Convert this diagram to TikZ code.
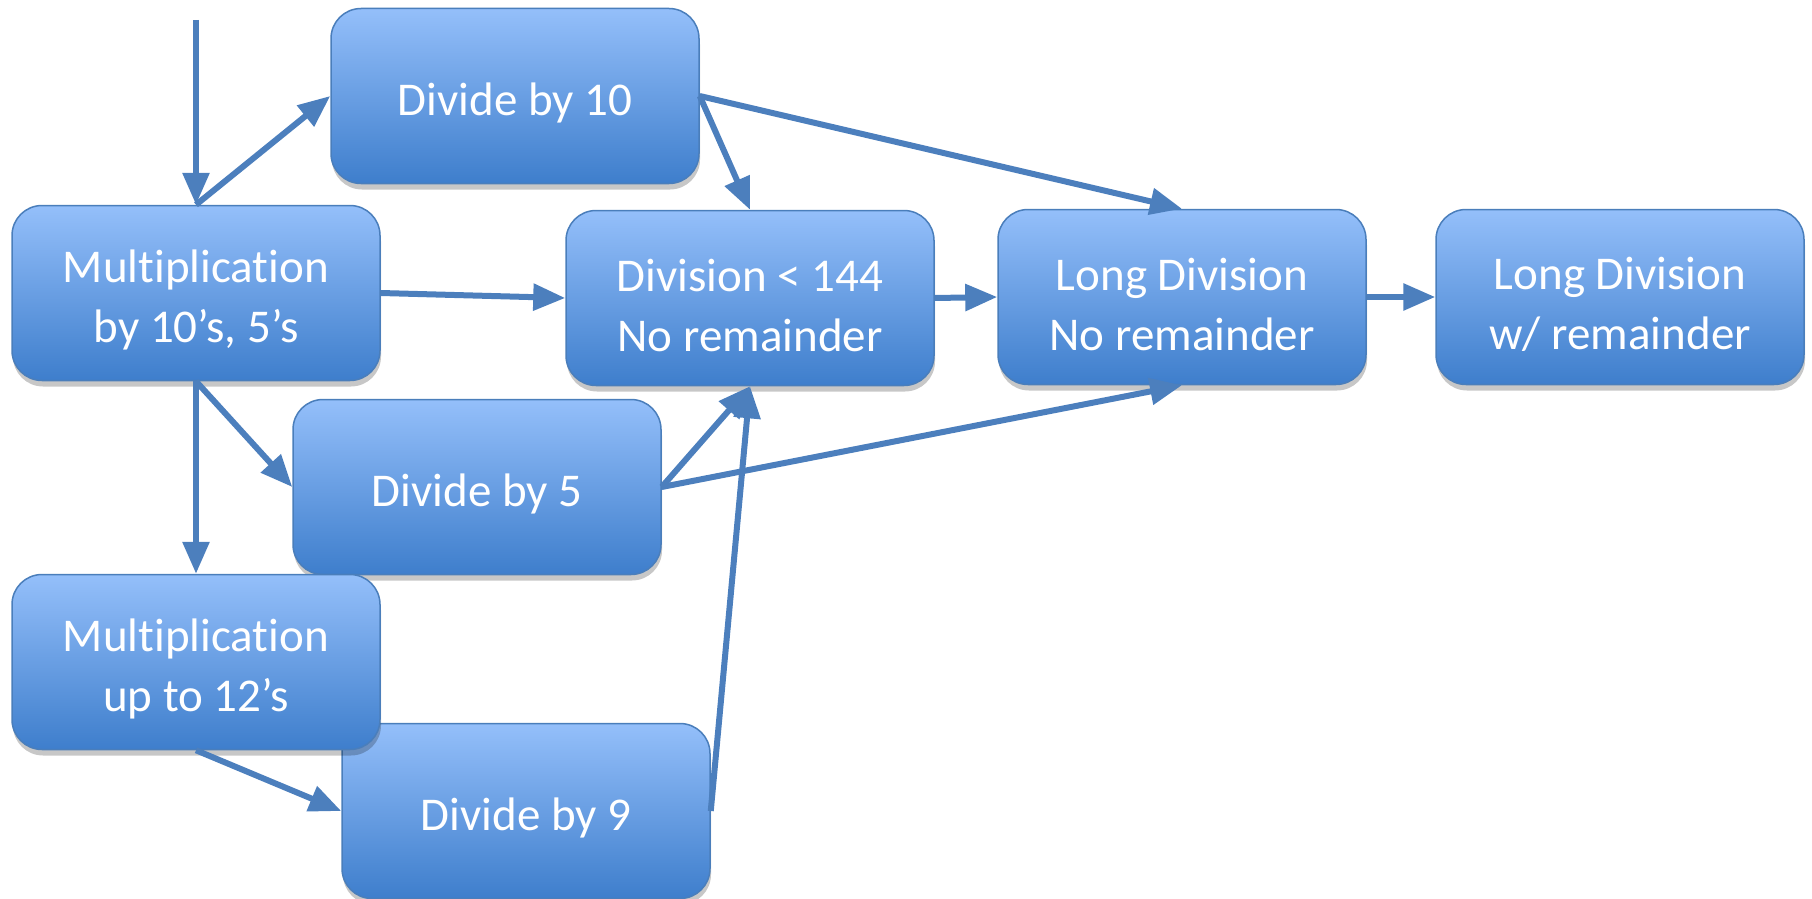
\documentclass[tikz,border=0pt]{standalone}
\usepackage{fontspec}
\setmainfont{Carlito}[Ligatures={NoCommon}]
\usetikzlibrary{arrows.meta,shadows}
\definecolor{boxtop}{RGB}{148,191,250}
\definecolor{boxbot}{RGB}{62,126,204}
\definecolor{boxline}{RGB}{74,126,187}
\definecolor{linkc}{RGB}{76,127,189}
% invisible strut: extra room above the first line sets the text a little low
\newcommand\toproom{\rule{0pt}{\dimexpr\fontcharht\font`\l+14pt\relax}}
\tikzset{
  box/.style={rounded corners=30pt, minimum width=368pt, minimum height=175pt,
    inner sep=0pt, draw=boxline, line width=1.5pt,
    top color=boxtop, bottom color=boxbot, text=white, align=center,
    font=\fontsize{47}{60}\selectfont,
    drop shadow={shadow xshift=1pt, shadow yshift=-6pt, fill=black, opacity=0.22}},
  link/.style={draw=linkc, line width=6pt, -{Triangle[length=32pt,width=26pt]}}
}
\begin{document}
\begin{tikzpicture}[x=1pt,y=-1pt]
\useasboundingbox (0,0) rectangle (1812,899);
% lessons
\node[box] (d10)   at (515,96)  {\toproom Divide by 10};
\node[box] (mult)  at (196,293) {\toproom Multiplication\\by 10’s, 5’s};
\node[box] (div)   at (750,298) {\toproom Division < 144\\No remainder};
\node[box] (ld)    at (1182,297) {\toproom Long Division\\No remainder};
\node[box] (ldr)   at (1620,297) {\toproom Long Division\\w/ remainder};
\node[box] (d5)    at (477,487) {\toproom Divide by 5};
\node[box] (d9)    at (526,811) {\toproom Divide by 9};
\node[box] (m12)   at (196,662) {\toproom Multiplication\\up to 12’s};
\coordinate (start) at (196,20);
% prerequisites
\draw[link] (start) -- (mult.north);
\draw[link] (mult.north) -- (d10.west);
\draw[link] (mult.east) -- (div.west);
\draw[link] (d10.east) -- (div.north);
\draw[link] (d10.east) -- (ld.north);
\draw[link] (div.east) -- (ld.west);
\draw[link] (ld.east) -- (ldr.west);
\draw[link] (mult.south) -- (d5.west);
\draw[link] (mult.south) -- (m12.north);
\draw[link] (d5.east) -- (div.south);
\draw[link] (d5.east) -- (ld.south);
\draw[link] (m12.south) -- (d9.west);
\draw[link] (d9.east) -- (div.south);
\end{tikzpicture}
\end{document}
